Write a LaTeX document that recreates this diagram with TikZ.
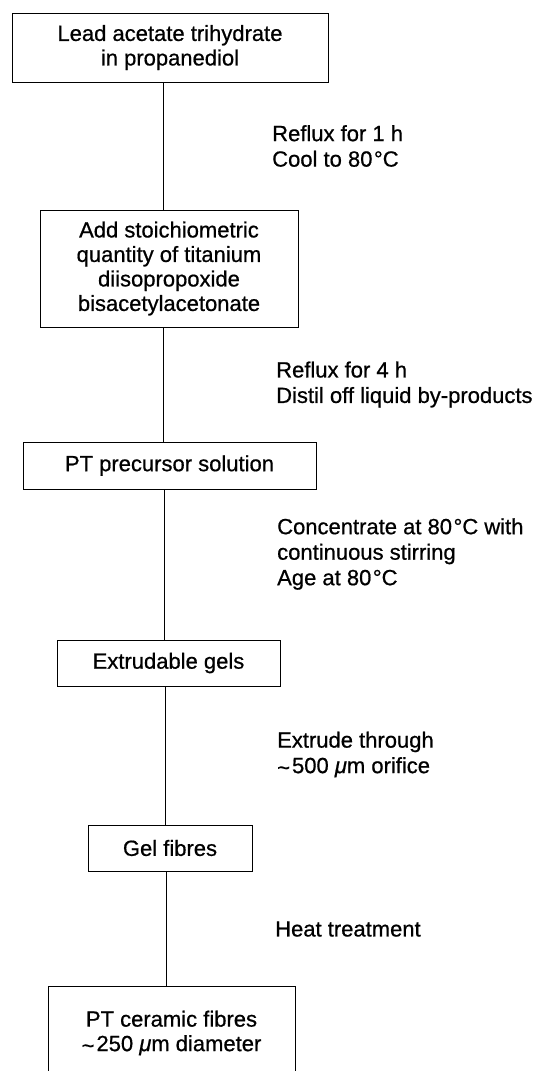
\documentclass[tikz,border=0pt]{standalone}
\usepackage{fontspec}
\setmainfont{Liberation Sans}[FakeBold=0.7, ItalicFeatures={FakeBold=0.7}]
\newcommand{\dg}{\kern1.5pt°}
\newcommand{\apx}{\raisebox{-2pt}{\textasciitilde}\kern2pt}
\begin{document}
\begin{tikzpicture}[x=1pt,y=-1pt,
  box/.style={draw, line width=0.8pt, align=center, inner sep=0pt, font=\fontsize{22}{24.5}\selectfont},
  lbl/.style={anchor=west, align=left, inner sep=0pt, font=\fontsize{22}{25.5}\selectfont},
  link/.style={line width=0.8pt}]
\useasboundingbox (0,0) rectangle (544,1071);
\clip (0,0) rectangle (544,1071);
% boxes
\node[box, minimum width=316pt, minimum height=69pt] (b1) at (170,47.5) {Lead acetate trihydrate\\in propanediol};
\node[box, minimum width=258pt, minimum height=117pt] (b2) at (169,268.5) {Add stoichiometric\\quantity of titanium\\diisopropoxide\\bisacetylacetonate};
\node[box, minimum width=293pt, minimum height=47pt] (b3) at (169.5,465.5) {PT precursor solution};
\node[box, minimum width=223pt, minimum height=46pt] (b4) at (168.5,663) {Extrudable gels};
\node[box, minimum width=164pt, minimum height=46pt] (b5) at (170,848) {Gel fibres};
\node[box, minimum width=247pt, minimum height=94pt] (b6) at (171.5,1033) {PT ceramic fibres\\\apx 250 \textit{μ}m diameter};
% connector columns
\coordinate (c1) at (163,0);
\coordinate (c2) at (163,0);
\coordinate (c3) at (164,0);
\coordinate (c4) at (165,0);
\coordinate (c5) at (166,0);
\draw[link] (b1.south -| c1) -- (b2.north -| c1);
\draw[link] (b2.south -| c2) -- (b3.north -| c2);
\draw[link] (b3.south -| c3) -- (b4.north -| c3);
\draw[link] (b4.south -| c4) -- (b5.north -| c4);
\draw[link] (b5.south -| c5) -- (b6.north -| c5);
% labels
\node[lbl] (l1) at (272,146) {Reflux for 1 h\\Cool to 80\dg C};
\node[lbl] (l2) at (276,384.5) {Reflux for 4 h\\Distil off liquid by-products};
\node[lbl] (l3) at (277,554) {Concentrate at 80\dg C with\\continuous stirring\\Age at 80\dg C};
\node[lbl] (l4) at (277,754.5) {Extrude through\\\apx 500 \textit{μ}m orifice};
\node[lbl] (l5) at (275,929) {Heat treatment};
\end{tikzpicture}
\end{document}
